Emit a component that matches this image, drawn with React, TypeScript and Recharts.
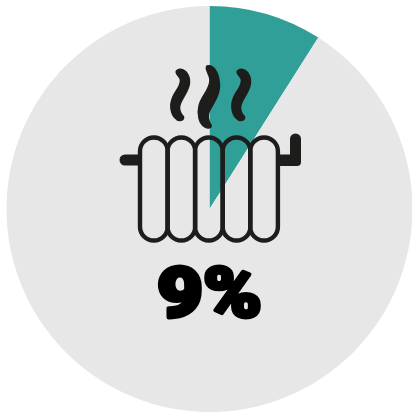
import { Cell, Pie, PieChart } from 'recharts';

const labels = ['Heating', 'Other'];
const shares = [9, 91];
const colors = ['#2f9f98', '#e7e7e7'];
const shareLabel = '9%';

const rows = labels.map((name, i) => ({ name, value: shares[i] }));

const sectionEdges = [140, 167.5, 195, 222.7, 250.2];
const steamSide = 'M177 71 C183 67 189 74 189 82 C189 92 180 98 179 107 C179 112 181 115 183 117 C184 120 179 121 177 119 C171 115 170 105 173 98 C176 90 181 88 181 80 C181 76 175 74 177 71 Z';
const steamMiddle = 'M207 66 C213 64 219 72 219.5 85 C220 97 212 104 209 112 C207 118 209 122 211 125 C212 128 208 129 205 127 C199 124 197 114 199 106 C201 96 210 90 210 80 C210 74 204 69 207 66 Z';

const RadiatorIcon = () => (
    <svg width={412} height={413} style={{ position: 'absolute', left: 0, top: 0 }}>
        <g fill="#1d1d1b" stroke="#1d1d1b" strokeLinejoin="round">
            <path d={steamSide} strokeWidth={2.5} />
            <path d={steamMiddle} strokeWidth={1.5} />
            <path d={steamSide} strokeWidth={2.5} transform="translate(61 0)" />
            <path d="M140 154.5 H125 A5.5 5.5 0 0 0 125 165.5 H140 Z" strokeWidth={0} />
            <path d="M278 154.5 H290 V139 A5.5 5.5 0 0 1 301 139 V162 A4 4 0 0 1 297 166 H278 Z" strokeWidth={0} />
        </g>
        <g fill="none" stroke="#1d1d1b">
            {sectionEdges.map((x) => (
                <rect key={x} x={x} y={137.5} width={27.7} height={103} rx={13.8} strokeWidth={4.4} />
            ))}
        </g>
        <text
            x={157}
            y={317}
            textLength={105}
            lengthAdjust="spacingAndGlyphs"
            fontFamily="Roboto"
            fontWeight={900}
            fontSize={70}
            fill="#000"
            stroke="#000"
            strokeWidth={4}
            strokeLinejoin="round"
        >
            {shareLabel}
        </text>
    </svg>
);

const App = () => (
    <div style={{ position: 'absolute', left: 0, top: 0, width: 412, height: 413 }}>
        <PieChart width={412} height={413} margin={{ top: 0, right: 0, bottom: 0, left: 0 }}>
            <Pie
                data={rows}
                dataKey="value"
                nameKey="name"
                cx={209.5}
                cy={209}
                innerRadius={0}
                outerRadius={203}
                startAngle={90}
                endAngle={-270}
                stroke="none"
                isAnimationActive={false}
            >
                {rows.map((row, i) => (
                    <Cell key={row.name} fill={colors[i]} />
                ))}
            </Pie>
        </PieChart>
        <RadiatorIcon />
    </div>
);

export default App;
